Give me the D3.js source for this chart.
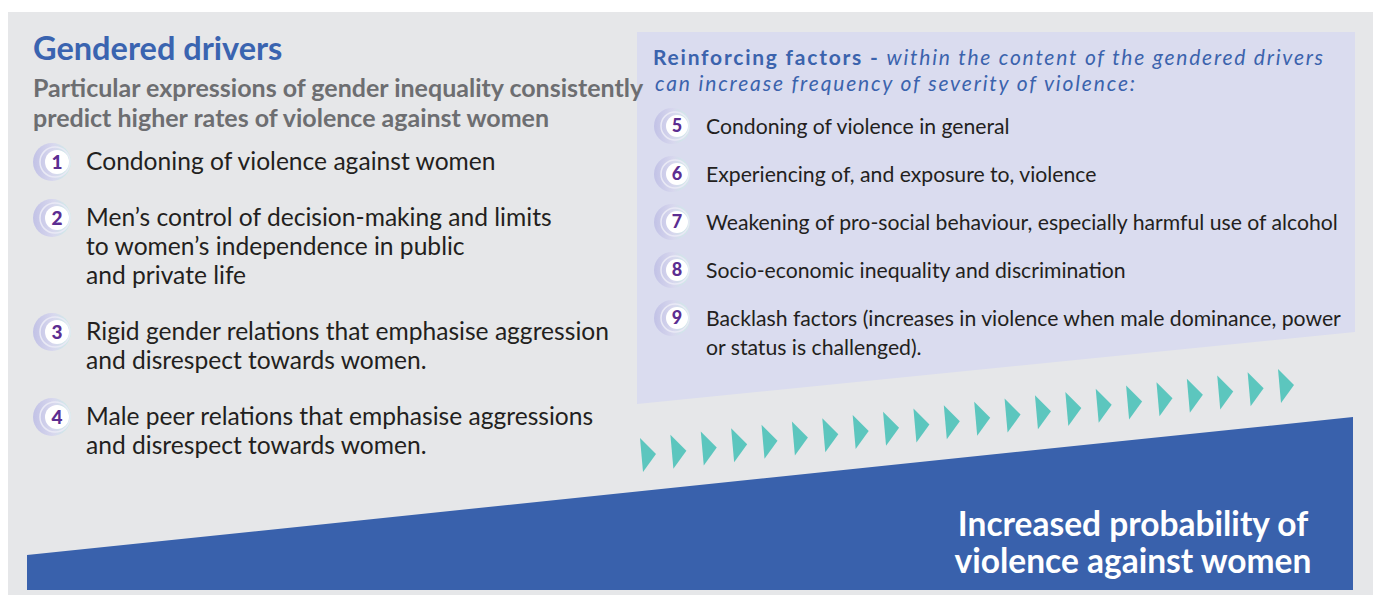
<!DOCTYPE html>
<html>
<head>
<meta charset="utf-8">
<script src="https://cdn.jsdelivr.net/npm/d3@7"></script>
<style>
  body { margin: 0; background: #fff; }
  svg { display: block; }
  text { font-family: Lato, "Open Sans", sans-serif; }
</style>
</head>
<body>
<div class="vis-drivers"></div>
<script>
// content
const driverNums = [1, 2, 3, 4];
const driverLines = [
  ["Condoning of violence against women"],
  ["Men\u2019s control of decision-making and limits", "to women\u2019s independence in public", "and private life"],
  ["Rigid gender relations that emphasise aggression", "and disrespect towards women."],
  ["Male peer relations that emphasise aggressions", "and disrespect towards women."]
];
const factorNums = [5, 6, 7, 8, 9];
const factorLines = [
  ["Condoning of violence in general"],
  ["Experiencing of, and exposure to, violence"],
  ["Weakening of pro-social behaviour, especially harmful use of alcohol"],
  ["Socio-economic inequality and discrimination"],
  ["Backlash factors (increases in violence when male dominance, power", "or status is challenged)."]
];
const driversTitle = "Gendered drivers";
const driversSub = ["Particular expressions of gender inequality consistently", "predict higher rates of violence against women"];
const factorsHead = "Reinforcing factors - ";
const factorsHeadItalic = ["within the content of the gendered drivers", "can increase frequency of severity of violence:"];
const outcomeLines = ["Increased probability of", "violence against women"];
const chevronSteps = [1, 2, 3, 4, 5, 6, 7, 8, 9, 10, 11, 12, 13, 14, 15, 16, 17, 18, 19, 20, 21, 22];

const W = 1373, H = 595;
const svg = d3.select(".vis-drivers").append("svg")
  .attr("width", W).attr("height", H);

const defs = svg.append("defs");
const grad = defs.append("linearGradient").attr("id", "ring")
  .attr("x1", "0%").attr("x2", "100%").attr("y1", "0%").attr("y2", "0%");
grad.append("stop").attr("offset", "0%").attr("stop-color", "#c2c2e6");
grad.append("stop").attr("offset", "55%").attr("stop-color", "#d8d8ee");
grad.append("stop").attr("offset", "100%").attr("stop-color", "#cdeee6");

// backgrounds
svg.append("rect").attr("x", 8).attr("y", 12).attr("width", W - 8).attr("height", H - 12)
  .attr("fill", "#e6e7e9");

// lavender panel with slanted bottom
const panelY = d3.scaleLinear().domain([637, 1355]).range([404, 332]);
svg.append("path")
  .attr("d", d3.line()([[637, 32], [1355, 32], [1355, panelY(1355)], [637, panelY(637)]]) + "Z")
  .attr("fill", "#dadcef");

// rising blue wedge
const slopeX = d3.scaleLinear().domain([0, 1]).range([27, 1353]);
const wedgeY = d3.scaleLinear().domain([0, 1]).range([555, 417]);
svg.append("path")
  .attr("d", d3.line()([[slopeX(0), wedgeY(0)], [slopeX(1), wedgeY(1)], [slopeX(1), 590], [slopeX(0), 590]]) + "Z")
  .attr("fill", "#3961ac");

// chevrons
const cx = d3.scaleLinear().domain([1, 22]).range([640, 1278]);
const cy = d3.scaleLinear().domain([1, 22]).range([438, 369]);
svg.append("g").selectAll("path").data(chevronSteps).join("path")
  .attr("d", d => {
    const x = cx(d), y = cy(d);
    return d3.line()([[x, y], [x + 3, y + 34], [x + 16, y + 16]]) + "Z";
  })
  .attr("fill", "#5cc6be");

// text blocks
svg.append("text").attr("x", 33).attr("y", 60)
  .attr("font-size", 32.5).attr("font-weight", 700).attr("fill", "#3a64b0")
  .text(driversTitle);
svg.append("g").selectAll("text").data(driversSub).join("text")
  .attr("x", 33).attr("y", (d, i) => 97 + i * 30)
  .attr("font-size", 25).attr("font-weight", 700).attr("fill", "#6d6e71")
  .text(d => d);

// header is set a bit smaller and stretched to the reference line widths
const h1 = svg.append("text").attr("x", 653).attr("y", 65)
  .attr("font-size", 21).attr("fill", "#3b63ad")
  .attr("textLength", 670).attr("lengthAdjust", "spacing");
h1.append("tspan").attr("font-weight", 700).text(factorsHead);
h1.append("tspan").attr("font-style", "italic").text(factorsHeadItalic[0]);
svg.append("text").attr("x", 655).attr("y", 91)
  .attr("font-size", 21).attr("font-style", "italic").attr("fill", "#3b63ad")
  .attr("textLength", 480).attr("lengthAdjust", "spacing")
  .text(factorsHeadItalic[1]);

function list(nums, lines, opt) {
  let y = opt.y0;
  const g = svg.append("g");
  nums.forEach((n, i) => {
    const b = g.append("g");
    b.append("circle").attr("cx", opt.bx - 5).attr("cy", y - 8).attr("r", opt.r + 7)
      .attr("fill", "url(#ring)");
    b.append("circle").attr("cx", opt.bx - 2).attr("cy", y - 8).attr("r", opt.r + 3)
      .attr("fill", "none").attr("stroke", "#e9e9f5").attr("stroke-width", 1.5);
    b.append("circle").attr("cx", opt.bx).attr("cy", y - 8).attr("r", opt.r)
      .attr("fill", "#fff");
    b.append("text").attr("x", opt.bx).attr("y", y - 8).attr("dy", "0.36em")
      .attr("text-anchor", "middle").attr("font-size", opt.nfs).attr("font-weight", 900)
      .attr("fill", "#5c2d91").text(n);
    g.append("g").selectAll("text").data(lines[i]).join("text")
      .attr("x", opt.tx).attr("y", (d, k) => y + k * opt.lh)
      .attr("font-size", opt.fs).attr("fill", "#231f20")
      .text(d => d);
    y += lines[i].length * opt.lh + opt.gap;
  });
}
list(driverNums, driverLines, { y0: 170, bx: 57, r: 12, tx: 86, lh: 29, gap: 27, fs: 24.6, nfs: 19 });
list(factorNums, factorLines, { y0: 134, bx: 677, r: 11, tx: 706, lh: 29, gap: 19, fs: 21.2, nfs: 18 });

svg.append("g").selectAll("text").data(outcomeLines).join("text")
  .attr("x", 1133).attr("y", (d, i) => 536 + i * 37)
  .attr("text-anchor", "middle")
  .attr("font-size", 33.5).attr("font-weight", 700).attr("fill", "#fff")
  .text(d => d);
</script>
</body>
</html>
